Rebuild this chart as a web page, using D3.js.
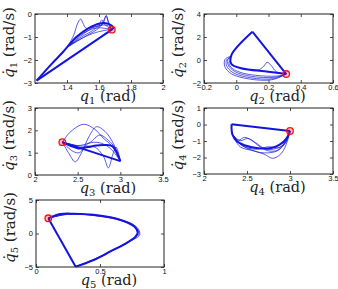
<!DOCTYPE html>
<html><head><meta charset="utf-8">
<script src="https://cdn.jsdelivr.net/npm/d3@7"></script>
<style>body{margin:0;background:#fff}svg{display:block}</style>
</head><body>
<script>
// ---------- data ----------
const q1Domain = [1.2, 2],  dq1Domain = [-3, 0];
const q2Domain = [-0.2, 0.6], dq2Domain = [-2, 4];
const q3Domain = [2, 3.5], dq3Domain = [0, 3];
const q4Domain = [2, 3.5], dq4Domain = [-3, 1];
const q5Domain = [0, 1],   dq5Domain = [-5, 5];

const q1Ticks = [1.4, 1.6, 1.8, 2],  dq1Ticks = [-3, -2, -1, 0];
const q2Ticks = [-0.2, 0, 0.2, 0.4, 0.6], dq2Ticks = [-2, 0, 2, 4];
const q3Ticks = [2, 2.5, 3, 3.5], dq3Ticks = [0, 1, 2, 3];
const q4Ticks = [2, 2.5, 3, 3.5], dq4Ticks = [-3, -2, -1, 0, 1];
const q5Ticks = [0, 0.5, 1], dq5Ticks = [-5, 0, 5];

// start (red circle) of each phase portrait
const q1Start = [1.68, -0.68];
const q2Start = [0.31, -1.22];
const q3Start = [2.32, 1.47];
const q4Start = [3.0, -0.39];
const q5Start = [0.096, 2.27];

// thick (converged) cycles
const q1Thick = [
  [[1.68,-0.68],[1.21,-2.9]],
  [[1.21,-2.9],[1.30,-2.2],[1.375,-1.65],[1.46,-0.99],[1.533,-0.62],[1.606,-0.41],[1.658,-0.43],[1.69,-0.6],[1.68,-0.68]]
];
const q2Thick = [
  [[0.31,-1.22],[0.10,2.46]],
  [[0.10,2.46],[-0.03,0.43],[-0.03,-0.35],[0.03,-0.72],[0.198,-1.02],[0.31,-1.22]]
];
const q3Thick = [
  [[2.32,1.47],[3.0,0.62]],
  [[2.32,1.47],[2.42,1.3],[2.51,1.19],[2.62,1.25],[2.72,1.32],[2.82,1.34],[2.91,1.28],[3.0,0.62]]
];
const q4Thick = [
  [[3.0,-0.39],[2.32,0.01]],
  [[2.32,0.01],[2.33,-0.6],[2.38,-1.0],[2.47,-1.26],[2.63,-1.44],[2.78,-1.42],[2.88,-1.22],[2.96,-0.84],[3.0,-0.39]]
];
const q5Thick = [
  [[0.096,2.27],[0.31,-4.95]],
  [[0.31,-4.95],[0.45,-3.95],[0.578,-2.72],[0.70,-1.5],[0.775,-0.5],[0.795,0.1],[0.77,1.0],[0.63,2.2],[0.45,2.8],[0.30,2.95],[0.19,2.9],[0.096,2.27]]
];

// thin (transient) trajectories
const q1Thin = [
  [[1.40,-1.45],[1.44,-0.95],[1.47,-0.35],[1.486,-0.22],[1.50,-0.4],[1.519,-0.62],[1.57,-0.56],[1.62,-0.48],[1.644,-0.09],[1.66,-0.4],[1.68,-0.68]],
  [[1.40,-1.45],[1.49,-1.0],[1.56,-0.72],[1.60,-0.5],[1.617,-0.26],[1.635,-0.45],[1.68,-0.68]],
  [[1.40,-1.45],[1.48,-1.1],[1.56,-0.85],[1.63,-0.72],[1.68,-0.68]],
  [[1.40,-1.45],[1.47,-0.98],[1.54,-0.7],[1.60,-0.6],[1.68,-0.68]],
  [[1.40,-1.45],[1.50,-0.88],[1.57,-0.57],[1.62,-0.48],[1.66,-0.52],[1.68,-0.68]],
  [[1.40,-1.45],[1.52,-0.95],[1.60,-0.6],[1.635,-0.2],[1.645,-0.06],[1.66,-0.35],[1.68,-0.68]]
];
const q2Thin = [
  [[-0.03,0.2],[-0.05,0.1],[-0.05,-0.43],[-0.01,-1.0],[0.094,-1.42],[0.239,-1.5],[0.31,-1.22]],
  [[-0.03,0.3],[-0.06,0.0],[-0.06,-0.5],[-0.02,-1.1],[0.09,-1.55],[0.23,-1.62],[0.31,-1.22]],
  [[-0.03,0.1],[-0.045,-0.2],[-0.035,-0.6],[0.02,-1.05],[0.12,-1.33],[0.25,-1.4],[0.31,-1.22]],
  [[-0.03,0.35],[-0.07,0.05],[-0.07,-0.6],[-0.03,-1.2],[0.08,-1.65],[0.22,-1.72],[0.31,-1.22]],
  [[0.03,-0.72],[0.135,-0.87],[0.17,-0.55],[0.191,-0.2],[0.215,-0.45],[0.249,-1.02],[0.31,-1.22]]
];
const q3Thin = [
  [[2.32,1.47],[2.42,1.95],[2.57,2.27],[2.70,2.05],[2.80,1.65],[2.90,1.3],[3.0,0.62]],
  [[2.32,1.47],[2.40,0.95],[2.47,0.59],[2.54,0.95],[2.63,1.7],[2.72,2.16],[2.82,1.95],[2.92,1.4],[3.0,0.62]],
  [[2.32,1.47],[2.50,1.32],[2.64,1.45],[2.76,1.79],[2.86,1.55],[2.94,1.2],[3.0,0.62]],
  [[2.32,1.47],[2.52,1.3],[2.70,1.25],[2.80,0.85],[2.86,0.32],[2.91,0.9],[2.95,1.25],[3.0,0.62]],
  [[2.32,1.47],[2.45,1.05],[2.52,1.0],[2.62,1.4],[2.75,1.45],[2.88,1.2],[3.0,0.62]]
];
const q4Thin = [
  [[2.33,-0.6],[2.40,-0.95],[2.47,-0.78],[2.55,-0.95],[2.65,-1.35],[2.75,-1.6],[2.86,-1.55],[2.95,-1.0],[3.0,-0.39]],
  [[2.33,-0.6],[2.42,-1.35],[2.58,-1.6],[2.70,-1.8],[2.80,-2.05],[2.90,-1.75],[2.97,-1.0],[3.0,-0.39]],
  [[2.33,-0.6],[2.40,-1.1],[2.55,-1.55],[2.70,-1.72],[2.85,-1.6],[2.95,-1.1],[3.0,-0.39]],
  [[2.33,-0.6],[2.42,-0.98],[2.51,-0.84],[2.60,-1.1],[2.72,-1.5],[2.84,-1.45],[2.94,-1.15],[3.0,-0.39]],
  [[2.33,-0.6],[2.45,-1.3],[2.60,-1.5],[2.75,-1.35],[2.88,-1.4],[2.96,-0.9],[3.0,-0.39]]
];
const q5Thin = [
  [[0.31,-4.95],[0.46,-3.9],[0.59,-2.6],[0.72,-1.3],[0.81,-0.2],[0.79,0.9],[0.66,2.05],[0.45,2.7],[0.25,2.9],[0.096,2.27]],
  [[0.31,-4.95],[0.455,-3.85],[0.585,-2.55],[0.71,-1.35],[0.79,-0.2],[0.775,1.05],[0.64,2.2],[0.45,2.75],[0.25,2.92],[0.096,2.27]],
  [[0.31,-4.95],[0.47,-3.8],[0.60,-2.5],[0.735,-1.2],[0.805,0.0],[0.78,0.9],[0.67,1.9],[0.46,2.65],[0.25,2.85],[0.096,2.27]]
];

const xLabels = ["1","2","3","4","5"];

// ---------- layout ----------
const W = 338, H = 289;
const blue = "#1414dc";
const svg = d3.select("body").append("svg").attr("width", W).attr("height", H);

const panels = [
  {x0:35, y0:14, w:128, h:69, xd:q1Domain, yd:dq1Domain, xt:q1Ticks, yt:dq1Ticks, thick:q1Thick, thin:q1Thin, start:q1Start, lab:xLabels[0]},
  {x0:204,y0:14, w:129, h:69, xd:q2Domain, yd:dq2Domain, xt:q2Ticks, yt:dq2Ticks, thick:q2Thick, thin:q2Thin, start:q2Start, lab:xLabels[1]},
  {x0:35, y0:108,w:128, h:67, xd:q3Domain, yd:dq3Domain, xt:q3Ticks, yt:dq3Ticks, thick:q3Thick, thin:q3Thin, start:q3Start, lab:xLabels[2]},
  {x0:204,y0:108,w:129, h:66, xd:q4Domain, yd:dq4Domain, xt:q4Ticks, yt:dq4Ticks, thick:q4Thick, thin:q4Thin, start:q4Start, lab:xLabels[3]},
  {x0:36, y0:200,w:128, h:67, xd:q5Domain, yd:dq5Domain, xt:q5Ticks, yt:dq5Ticks, thick:q5Thick, thin:q5Thin, start:q5Start, lab:xLabels[4]}
];

const fmt = d => String(d).replace("-", "\u2212");

panels.forEach(p => {
  const g = svg.append("g").attr("transform", `translate(${p.x0},${p.y0})`);
  const x = d3.scaleLinear().domain(p.xd).range([0, p.w]);
  const y = d3.scaleLinear().domain(p.yd).range([p.h, 0]);

  const clipId = "clip" + p.lab;
  g.append("clipPath").attr("id", clipId).append("rect")
    .attr("x", -4).attr("y", -4).attr("width", p.w + 8).attr("height", p.h + 8);

  const line = d3.line().x(d => x(d[0])).y(d => y(d[1])).curve(d3.curveCatmullRom.alpha(0.5));
  const plot = g.append("g").attr("clip-path", `url(#${clipId})`);
  plot.selectAll("path.thin").data(p.thin).join("path").attr("class","thin")
    .attr("d", line).attr("fill","none").attr("stroke", blue).attr("stroke-width", 0.7);
  plot.selectAll("path.thick").data(p.thick).join("path").attr("class","thick")
    .attr("d", line).attr("fill","none").attr("stroke", blue).attr("stroke-width", 2).attr("stroke-linejoin","round");
  plot.append("circle").attr("cx", x(p.start[0])).attr("cy", y(p.start[1])).attr("r", 3.3)
    .attr("fill", "rgba(255,0,0,0.25)").attr("stroke", "#ff1010").attr("stroke-width", 1.3);

  const styleAxis = sel => {
    sel.select(".domain").remove();
    sel.selectAll("line").attr("stroke", "#222").attr("stroke-width", 0.8);
    sel.selectAll("text").attr("font-family", "Liberation Sans, Arial, sans-serif").attr("font-size", 7.5).attr("fill", "#111");
  };
  g.append("g").attr("transform", `translate(0,${p.h})`)
    .call(d3.axisBottom(x).tickValues(p.xt).tickSizeInner(-3).tickSizeOuter(0).tickPadding(2).tickFormat(fmt)).call(styleAxis);
  g.append("g")
    .call(d3.axisLeft(y).tickValues(p.yt).tickSizeInner(-3).tickSizeOuter(0).tickPadding(3).tickFormat(fmt)).call(styleAxis);
  g.append("g")
    .call(d3.axisTop(x).tickValues(p.xt).tickSizeInner(-3).tickSizeOuter(0).tickFormat("")).call(styleAxis);
  g.append("g").attr("transform", `translate(${p.w},0)`)
    .call(d3.axisRight(y).tickValues(p.yt).tickSizeInner(-3).tickSizeOuter(0).tickFormat("")).call(styleAxis);

  g.append("rect").attr("width", p.w).attr("height", p.h).attr("fill","none").attr("stroke","#222").attr("stroke-width",1);

  // x label
  const xl = g.append("text").attr("x", p.w/2 + 9).attr("y", p.h + 18).attr("text-anchor","middle")
    .attr("font-family","DejaVu Serif, Liberation Serif, serif").attr("font-size", 14.5).attr("fill","#222");
  xl.append("tspan").attr("font-style","italic").text("q");
  xl.append("tspan").attr("font-size", 10).attr("dy", 2.5).text(p.lab);
  xl.append("tspan").attr("dy", -2.5).text(" (rad)");

  // y label
  const yl = g.append("text").attr("transform", `translate(-21,${p.h/2 - 6}) rotate(-90)`).attr("text-anchor","middle")
    .attr("font-family","DejaVu Serif, Liberation Serif, serif").attr("font-size", 15).attr("fill","#222");
  yl.append("tspan").attr("font-style","italic").text("q\u0307");
  yl.append("tspan").attr("font-size", 10).attr("dy", 3).text(p.lab);
  yl.append("tspan").attr("dy", -3).text(" (rad/s)");
});
</script>
</body></html>
